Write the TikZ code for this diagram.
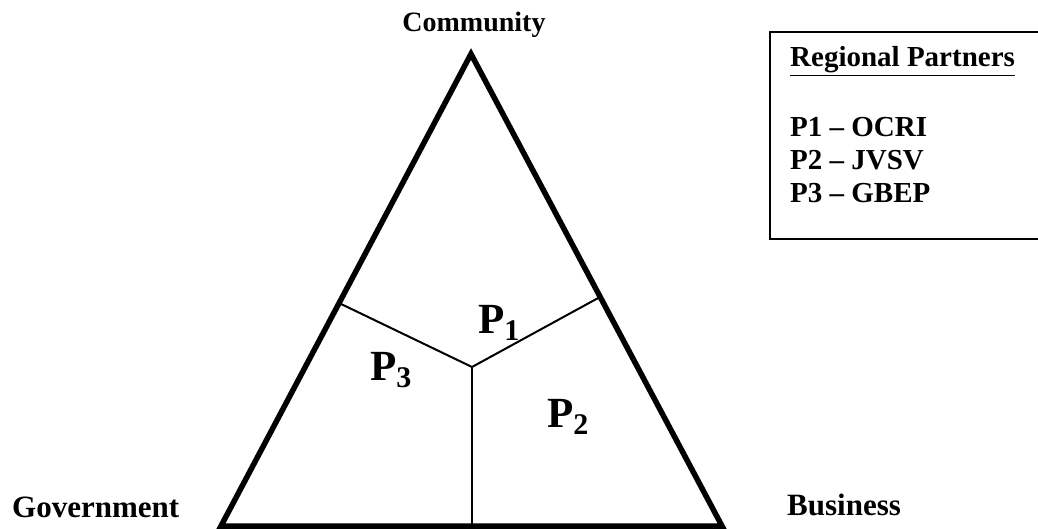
\documentclass[tikz,border=0pt]{standalone}
\usepackage{fontspec}
\setmainfont{Liberation Serif}
\begin{document}
\begin{tikzpicture}[x=1pt,y=-1pt,
  thickline/.style={line width=5.5pt,line join=miter},
  thinline/.style={line width=2pt},
  lbl/.style={inner sep=0pt,anchor=base west,font=\bfseries},
  plabel/.style={inner sep=0pt,anchor=base west,font=\bfseries\fontsize{43}{43}\selectfont}]
\clip (0,0) rectangle (1038,529);
\fill[white] (0,0) rectangle (1038,529);
% triangle
\coordinate (top) at (471,54);
\coordinate (bl) at (221,526);
\coordinate (br) at (722,526);
\coordinate (c) at (472,367);
\coordinate (jl) at (339,303);
\coordinate (jr) at (600,297);
\coordinate (jb) at (472,526);
\draw[thickline] (top) -- (bl) -- (br) -- cycle;
\draw[thinline] (jl) -- (c) -- (jr);
\draw[thinline] (c) -- (jb);
% corner labels
\node[lbl,anchor=base,font=\bfseries\fontsize{28}{28}\selectfont] (comm) at (474,32) {Community};
\node[lbl,font=\bfseries\fontsize{31}{31}\selectfont] (gov) at (12,517) {Government};
\node[lbl,font=\bfseries\fontsize{31}{31}\selectfont] (bus) at (787,515) {Business};
% region labels
\node[plabel] (p1) at (478,333) {P\raisebox{-7pt}{\fontsize{30}{30}\selectfont 1}};
\node[plabel] (p3) at (370,380) {P\raisebox{-7pt}{\fontsize{30}{30}\selectfont 3}};
\node[plabel] (p2) at (547,427) {P\raisebox{-7pt}{\fontsize{30}{30}\selectfont 2}};
% legend
\draw[line width=2.5pt] (770,32) rectangle (1060,239);
\node[lbl,font=\bfseries\fontsize{29}{29}\selectfont] (legt) at (790,67) {\underline{Regional Partners}};
\node[lbl,font=\bfseries\fontsize{29}{29}\selectfont] (l1) at (790,137) {P1 -- OCRI};
\node[lbl,font=\bfseries\fontsize{29}{29}\selectfont] (l2) at (790,170) {P2 -- JVSV};
\node[lbl,font=\bfseries\fontsize{29}{29}\selectfont] (l3) at (790,203) {P3 -- GBEP};
\end{tikzpicture}
\end{document}
